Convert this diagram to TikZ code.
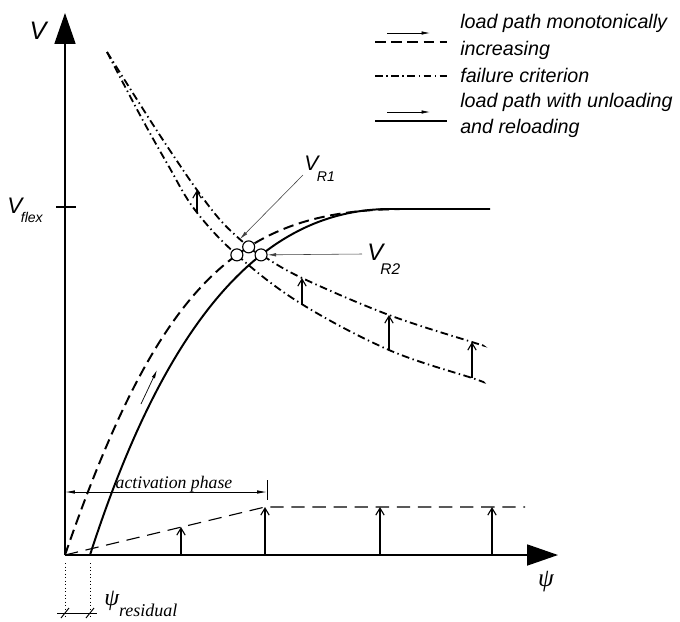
\documentclass[tikz,border=0pt]{standalone}
\usepackage{fontspec}
\setmainfont{Liberation Serif}
\setsansfont{Liberation Sans}
\usetikzlibrary{arrows.meta,intersections}

\begin{document}
\begin{tikzpicture}[
  x=0.025cm, y=-0.025cm,
  >=Latex,
  axis/.style={line width=1pt,-{Triangle[length=22pt,width=15pt]}},
  monotonic/.style={line width=1.4pt,dash pattern=on 7.5pt off 4pt},
  failure/.style={line width=1.3pt,dash pattern=on 5.5pt off 2.5pt on 1pt off 2.5pt},
  reload/.style={line width=1.4pt},
  activation/.style={line width=0.8pt,dash pattern=on 9.5pt off 5.5pt},
  lift/.style={line width=0.8pt,-{Straight Barb[length=5pt,width=6pt]}},
  leader/.style={line width=0.4pt,black!75,-{Latex[length=6pt,width=2.5pt]}},
  junction/.style={circle,draw,fill=white,line width=0.8pt,minimum size=0.3cm},
  legend/.style={font=\sffamily\itshape\fontsize{14}{16}\selectfont,anchor=base west},
  every node/.style={inner sep=0pt}
]
  \useasboundingbox (0,0) rectangle (680,621);

  % axes
  \coordinate (O) at (65,555);
  \coordinate (vtop) at (65,13);
  \coordinate (psiend) at (558,555);
  \draw[axis] (O) -- (vtop);
  \draw[axis] (O) -- (psiend);
  \node[font=\sffamily\itshape\fontsize{18}{18}\selectfont] (vlab) at (38,31) {V};
  \node[font=\itshape\fontsize{18}{18}\selectfont] (psilab) at (546,582) {ψ};
  \draw[line width=0.8pt] (56,207) -- (76,207);
  \node[anchor=base west,font=\sffamily\itshape] (vflex) at (7,213)
    {{\fontsize{16}{16}\selectfont V}\kern-1pt\raisebox{-7pt}{\fontsize{10}{10}\selectfont flex}};

  % failure criterion, before and after the shift
  \draw[failure,name path=critlow] plot[smooth,tension=0.6] coordinates {(107,52) (140,115)
    (168,165) (195,210) (237,255) (300,303) (389,350) (472,378) (483,382)};
  \draw[failure,name path=crithigh] plot[smooth,tension=0.6] coordinates {(107,52) (150,120)
    (175,158) (197,190) (222,222) (250,248) (263,256) (302,278) (389,315) (472,342) (482,345)};
  \foreach \x/\ya/\yb in {197/212/190,302/304/278,389/350/315,472/378/342}
    \draw[lift] (\x,\ya) -- (\x,\yb);

  % load paths
  \draw[monotonic,name path=mono] (O) .. controls (160,280) and (240,211) .. (400,209);
  \draw[reload,name path=unload] (90,555) .. controls (170,307) and (270,209) .. (390,209)
    -- (490,209);
  \coordinate (upa) at (141,404);
  \coordinate (upb) at (157,370);
  \draw[line width=0.5pt,-{Latex[length=6pt,width=2.5pt]}] (upa) -- (upb);

  % intersections
  \path[name intersections={of=mono and critlow,by={i1}}];
  \path[name intersections={of=mono and crithigh,by={i2}}];
  \path[name intersections={of=unload and crithigh,by={i3}}];
  \node[junction] (x1) at (i1) {};
  \node[junction] (x2) at (i2) {};
  \node[junction] (x3) at (i3) {};

  \node[anchor=base west,font=\sffamily\itshape] (vr1) at (304,170)
    {{\fontsize{15}{15}\selectfont V}\kern-1pt\raisebox{-8.5pt}{\fontsize{10}{10}\selectfont R1}};
  \coordinate (r1tail) at (303,175);
  \coordinate (r1tip) at (240,239);
  \draw[leader] (r1tail) -- (r1tip);
  \node[anchor=base west,font=\sffamily\itshape] (vr2) at (367,260)
    {{\fontsize{17}{17}\selectfont V}\kern-2pt\raisebox{-10pt}{\fontsize{11}{11}\selectfont R2}};
  \coordinate (r2tail) at (362,254);
  \draw[leader] (r2tail) -- (x3);

  % activation phase
  \coordinate (act0) at (65,492);
  \coordinate (act1) at (267,492);
  \draw[line width=0.6pt,{Latex[length=7pt,width=2.5pt]}-{Latex[length=7pt,width=2.5pt]}] (act0) -- (act1);
  \draw[line width=0.5pt] (267,480) -- (267,500);
  \node[anchor=base,font=\itshape\fontsize{12.6}{14}\selectfont] (actlab) at (174,488) {activation phase};
  \draw[activation] (O) -- (265,507) -- (525,507);
  \foreach \x/\y in {181/527,265/507,380/507,492/507}
    \draw[lift] (\x,555) -- (\x,\y);

  % residual rotation
  \draw[line width=0.5pt,dotted] (65,563) -- (65,618);
  \draw[line width=0.5pt,dotted] (90,563) -- (90,618);
  \draw[line width=0.5pt] (57,613) -- (97,613);
  \draw[line width=0.7pt] (61,618) -- (69,608);
  \draw[line width=0.7pt] (86,618) -- (94,608);
  \node[anchor=base west,font=\itshape] (psires) at (104,605)
    {{\fontsize{17}{17}\selectfont ψ}\raisebox{-8pt}{\fontsize{12.8}{14}\selectfont residual}};

  % legend
  \draw[line width=0.5pt,-{Latex[length=6pt,width=2.5pt]}] (387,33) -- (430,33);
  \draw[monotonic] (375,42) -- (447,42);
  \draw[failure] (375,76) -- (447,76);
  \draw[line width=0.5pt,-{Latex[length=6pt,width=2.5pt]}] (387,112) -- (430,112);
  \draw[reload] (375,121) -- (447,121);
  \node[legend] (leg1) at (460,28) {load path monotonically};
  \node[legend] (leg2) at (460,55) {increasing};
  \node[legend] (leg3) at (460,82) {failure criterion};
  \node[legend] (leg4) at (460,107) {load path with unloading};
  \node[legend] (leg5) at (460,133) {and reloading};
\end{tikzpicture}
\end{document}
